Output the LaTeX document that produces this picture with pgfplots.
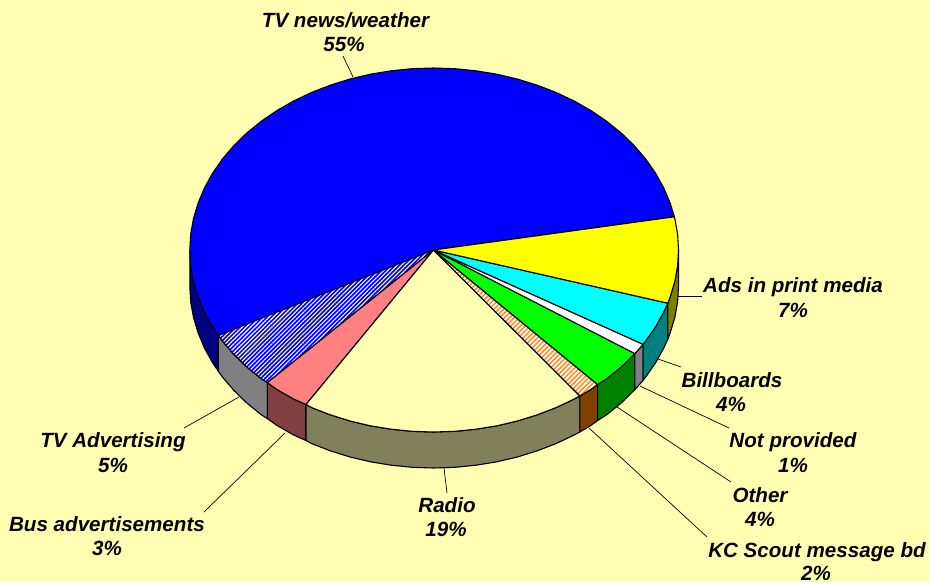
\documentclass[border=0pt]{standalone}
\usepackage{pgfplots}
\pgfplotsset{compat=1.18}
\usepackage{fontspec}
\setmainfont{Liberation Sans}
\usetikzlibrary{patterns.meta}
\definecolor{bg}{HTML}{FFFFB3}
\definecolor{radioside}{HTML}{80805A}
\definecolor{pinktop}{HTML}{FF8080}
\definecolor{pinkside}{HTML}{804040}
\definecolor{brownside}{HTML}{804000}
\definecolor{hatchorange}{HTML}{FF8C1A}
\definecolor{navyside}{HTML}{000080}
\definecolor{pureyellow}{HTML}{FFFF00}
\definecolor{purecyan}{HTML}{00FFFF}
\definecolor{puregreen}{HTML}{00FF00}
\definecolor{pureblue}{HTML}{0000FF}
\definecolor{sidegray}{HTML}{808080}
\begin{document}
\begin{tikzpicture}
\begin{axis}[
  scale only axis, width=929pt, height=582pt,
  xmin=0, xmax=929, ymin=0, ymax=582, y dir=reverse,
  hide axis, clip=false,
  every axis plot/.append style={line join=round, line width=1.1pt},
]
% background
\addplot[fill=bg, draw=none] coordinates {(0,0) (929,0) (929,582) (0,582)} --cycle;
% side walls
\addplot[fill=navyside, draw=black] coordinates {(189.8,250) (190.7,265.9) (193.5,281.6) (198.2,297.1) (204.5,312.2) (212.7,326.9) (218.4,335.4) (218.4,371.4) (212.7,362.9) (204.5,348.2) (198.2,333.1) (193.5,317.6) (190.7,301.9) (189.8,286)} --cycle;
\addplot[fill=sidegray, draw=black] coordinates {(218.4,335.4) (222.4,341) (233.9,354.4) (246.8,367) (261.2,378.7) (267.4,382.6) (267.4,418.6) (261.2,414.7) (246.8,403) (233.9,390.4) (222.4,377) (218.4,371.4)} --cycle;
\addplot[fill=pinkside, draw=black] coordinates {(267.4,382.6) (276.8,389.4) (293.8,399.1) (306,404.5) (306,440.5) (293.8,435.1) (276.8,425.4) (267.4,418.6)} --cycle;
\addplot[fill=radioside, draw=black] coordinates {(306,404.5) (311.7,407.6) (330.5,414.9) (350.1,421) (370.4,425.8) (391.2,429.2) (412.2,431.3) (433.5,432) (454.9,431.3) (476,429.2) (496.9,425.8) (517.3,421) (537,414.9) (556,407.6) (574,399.1) (579.9,395.9) (579.9,431.9) (574,435.1) (556,443.6) (537,450.9) (517.3,457) (496.9,461.8) (476,465.2) (454.9,467.3) (433.5,468) (412.2,467.3) (391.2,465.2) (370.4,461.8) (350.1,457) (330.5,450.9) (311.7,443.6) (306,440.5)} --cycle;
\addplot[fill=brownside, draw=black] coordinates {(579.9,395.9) (591,389.4) (597.6,384.5) (597.6,420.5) (591,425.4) (579.9,431.9)} --cycle;
\addplot[fill={rgb,255:red,0;green,128;blue,0}, draw=black] coordinates {(597.6,384.5) (606.7,378.7) (621.2,367) (634.9,353.6) (634.9,389.6) (621.2,403) (606.7,414.7) (597.6,420.5)} --cycle;
\addplot[fill=sidegray, draw=black] coordinates {(634.9,353.6) (643.1,344.3) (643.1,380.3) (634.9,389.6)} --cycle;
\addplot[fill={rgb,255:red,0;green,128;blue,128}, draw=black] coordinates {(643.1,344.3) (645.7,341) (655.5,326.9) (663.7,312.2) (667.8,303.2) (667.8,339.2) (663.7,348.2) (655.5,362.9) (645.7,377) (643.1,380.3)} --cycle;
\addplot[fill={rgb,255:red,128;green,128;blue,0}, draw=black] coordinates {(667.8,303.2) (670.1,297.1) (674.8,281.6) (677.6,265.9) (678.5,250) (678.5,286) (677.6,301.9) (674.8,317.6) (670.1,333.1) (667.8,339.2)} --cycle;
% top faces
\addplot[fill=pureblue, draw=black] coordinates {(433.5,250) (674.4,216.8) (670.1,202.9) (663.7,187.8) (655.5,173.1) (645.7,159) (634.2,145.6) (621.2,133) (606.7,121.3) (591,110.6) (574,100.9) (556,92.4) (537,85.1) (517.3,79) (496.9,74.2) (476,70.8) (454.9,68.7) (433.5,68) (412.2,68.7) (391.2,70.8) (370.4,74.2) (350.1,79) (330.5,85.1) (311.7,92.4) (293.8,100.9) (276.8,110.6) (261.2,121.3) (246.8,133) (233.9,145.6) (222.4,159) (212.7,173.1) (204.5,187.8) (198.2,202.9) (193.5,218.4) (190.7,234.1) (189.8,250) (190.7,265.9) (193.5,281.6) (198.2,297.1) (204.5,312.2) (212.7,326.9) (218.4,335.4)} --cycle;
\addplot[fill=pureblue, draw=none] coordinates {(433.5,250) (218.4,335.4) (222.4,341) (233.9,354.4) (246.8,367) (261.2,378.7) (267.4,382.6)} --cycle;
\addplot[draw=black, pattern={Lines[angle=45,distance=3pt,line width=1.1pt]}, pattern color=white] coordinates {(433.5,250) (218.4,335.4) (222.4,341) (233.9,354.4) (246.8,367) (261.2,378.7) (267.4,382.6)} --cycle;
\addplot[fill=pinktop, draw=black] coordinates {(433.5,250) (267.4,382.6) (276.8,389.4) (293.8,399.1) (306,404.5)} --cycle;
\addplot[fill=bg, draw=black] coordinates {(433.5,250) (306,404.5) (311.7,407.6) (330.5,414.9) (350.1,421) (370.4,425.8) (391.2,429.2) (412.2,431.3) (433.5,432) (454.9,431.3) (476,429.2) (496.9,425.8) (517.3,421) (537,414.9) (556,407.6) (574,399.1) (579.9,395.9)} --cycle;
\addplot[fill=white, draw=none] coordinates {(433.5,250) (579.9,395.9) (591,389.4) (597.6,384.5)} --cycle;
\addplot[draw=black, pattern={Lines[angle=45,distance=3.4pt,line width=1.5pt]}, pattern color=hatchorange] coordinates {(433.5,250) (579.9,395.9) (591,389.4) (597.6,384.5)} --cycle;
\addplot[fill=puregreen, draw=black] coordinates {(433.5,250) (597.6,384.5) (606.7,378.7) (621.2,367) (634.9,353.6)} --cycle;
\addplot[fill=white, draw=black] coordinates {(433.5,250) (634.9,353.6) (643.1,344.3)} --cycle;
\addplot[fill=purecyan, draw=black] coordinates {(433.5,250) (643.1,344.3) (645.7,341) (655.5,326.9) (663.7,312.2) (667.8,303.2)} --cycle;
\addplot[fill=pureyellow, draw=black] coordinates {(433.5,250) (667.8,303.2) (670.1,297.1) (674.8,281.6) (677.6,265.9) (678.5,250) (677.6,234.1) (674.8,218.4) (674.4,216.8)} --cycle;
% leader lines
\addplot[black, line width=0.7pt] coordinates {(353,77) (343,56)};
\addplot[black, line width=0.7pt] coordinates {(678,296) (702,296)};
\addplot[black, line width=0.7pt] coordinates {(658,359) (681,367)};
\addplot[black, line width=0.7pt] coordinates {(640,386) (729,428)};
\addplot[black, line width=0.7pt] coordinates {(617,407) (731,482)};
\addplot[black, line width=0.7pt] coordinates {(589,428) (707,537)};
\addplot[black, line width=0.7pt] coordinates {(444,468) (447,493)};
\addplot[black, line width=0.7pt] coordinates {(285,433) (204,512)};
\addplot[black, line width=0.7pt] coordinates {(239,397) (184,428)};
% labels
\tikzset{lab/.style={font=\fontsize{20.6}{24}\selectfont\bfseries\itshape, inner sep=0pt, anchor=base, text=black}}
\node[lab] at (axis cs:345.5,27) {TV news/weather};
\node[lab] at (axis cs:344,51) {55\%};
\node[lab] at (axis cs:793,292) {Ads in print media};
\node[lab] at (axis cs:793,317) {7\%};
\node[lab] at (axis cs:732,387) {Billboards};
\node[lab] at (axis cs:731,411) {4\%};
\node[lab] at (axis cs:793,447) {Not provided};
\node[lab] at (axis cs:793,472) {1\%};
\node[lab] at (axis cs:760,502) {Other};
\node[lab] at (axis cs:760,526) {4\%};
\node[lab] at (axis cs:817,557) {KC Scout message bd};
\node[lab] at (axis cs:816,580) {2\%};
\node[lab] at (axis cs:447,512) {Radio};
\node[lab] at (axis cs:446,536) {19\%};
\node[lab] at (axis cs:107,531) {Bus advertisements};
\node[lab] at (axis cs:107,555) {3\%};
\node[lab] at (axis cs:113,447) {TV Advertising};
\node[lab] at (axis cs:113,472) {5\%};
\end{axis}
\end{tikzpicture}
\end{document}
